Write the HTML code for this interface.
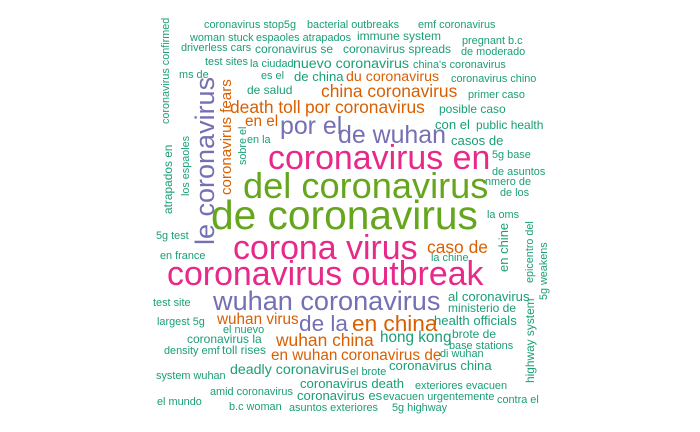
<!DOCTYPE html>
<html><head><meta charset="utf-8"><style>
html,body{margin:0;padding:0;background:#fff;width:700px;height:432px;overflow:hidden}
svg text{font-family:"Liberation Sans",sans-serif}
</style></head><body>
<svg id="cloud" width="700" height="432" xmlns="http://www.w3.org/2000/svg"></svg>
<script>
const T="#1b9e77",O="#d95f02",P="#7570b3",K="#e7298a",G="#66a61e";
// [word, size, color, x, y, rotated]
const words=[
["coronavirus stop5g",10,T,204,28,0],["bacterial outbreaks",10,T,307,28,0],["emf coronavirus",10,T,418,28,0],
["woman stuck",10,T,190,41,0],["espaoles atrapados",10,T,256,41,0],["immune system",11,T,357,40,0],["pregnant b.c",10,T,462,44,0],
["driverless cars",10,T,181,51,0],["coronavirus se",11,T,255,53,0],["coronavirus spreads",11,T,343,53,0],["de moderado",10,T,461,55,0],
["test sites",10,T,205,65,0],["la ciudad",10,T,250,67,0],["nuevo coronavirus",13,T,293,68,0],["china's coronavirus",10,T,413,68,0],
["ms de",10,T,179,78,0],["es el",10,T,261,79,0],["de china",12,T,294,81,0],["du coronavirus",13,O,346,81,0],["coronavirus chino",10,T,451,82,0],
["de salud",11,T,247,94,0],["china coronavirus",16,O,321,97,0],["primer caso",10,T,468,98,0],
["death toll",16,O,230,113,0],["por coronavirus",16,O,305,113,0],["posible caso",11,T,439,113,0],
["en el",14,O,245,126,0],["por el",22,P,280,134,0],["de wuhan",22,P,338,143,0],["con el",12,T,435,129,0],["public health",11,T,476,129,0],
["en la",10,T,247,143,0],["casos de",12,T,451,145,0],["5g base",10,T,492,158,0],["de asuntos",10,T,492,175,0],["nmero de",10,T,485,185,0],["de los",10,T,500,196,0],
["coronavirus en",30,K,268,169,0],["del coronavirus",32,G,243,198,0],["de coronavirus",36,G,211,229,0],
["corona virus",30,K,233,259,0],["caso de",16,O,427,253,0],["la oms",10,T,487,218,0],["coronavirus outbreak",30,K,167,285,0],
["wuhan coronavirus",24,P,213,310,0],["de la",20,P,299,331,0],["en china",20,O,352,331,0],["wuhan virus",14,O,217,324,0],
["wuhan china",16,O,276,346,0],["hong kong",14,T,380,342,0],["en wuhan",14,O,271,360,0],["coronavirus de",14,O,341,360,0],
["al coronavirus",12,T,448,301,0],["ministerio de",11,T,448,312,0],["health officials",12,T,434,325,0],["brote de",11,T,452,338,0],
["base stations",10,T,449,349,0],["di wuhan",10,T,440,357,0],["coronavirus china",12,T,389,370,0],["deadly coronavirus",13,T,230,374,0],
["el brote",10,T,350,375,0],["coronavirus death",12,T,300,388,0],["exteriores evacuen",10,T,415,389,0],["coronavirus es",12,T,297,400,0],
["evacuen urgentemente",10,T,383,400,0],["contra el",10,T,497,403,0],["asuntos exteriores",10,T,289,411,0],["5g highway",10,T,392,411,0],
["b.c woman",10,T,229,410,0],["amid coronavirus",10,T,210,395,0],["el mundo",10,T,157,405,0],["system wuhan",10,T,156,379,0],
["density emf",10,T,164,354,0],["toll rises",11,T,222,354,0],["coronavirus la",11,T,187,343,0],["el nuevo",10,T,223,333,0],
["largest 5g",10,T,157,325,0],["test site",10,T,153,306,0],["en france",10,T,160,259,0],["5g test",10,T,156,239,0],["la chine",10,T,431,261,0],
["coronavirus confirmed",10,T,169,124,1],["atrapados en",11,T,172,214,1],["los espaoles",10,T,189,196,1],["le coronavirus",25,P,214,245,1],
["coronavirus fears",14,O,231,195,1],["sobre el",10,T,246,165,1],["en chine",12,T,508,272,1],["epicentro del",10,T,533,283,1],
["5g weakens",10,T,547,300,1],["highway system",11,T,534,383,1]
];
const svg=document.getElementById('cloud');
words.forEach(w=>{
  const t=document.createElementNS("http://www.w3.org/2000/svg","text");
  
  
  const s=w[5]?w[1]*1.08:(w[1]>=20?w[1]*1.13:w[1]*1.09);
  t.setAttribute('font-size',s.toFixed(1));
  t.setAttribute('fill',w[2]);
  if(w[5]){t.setAttribute('transform','translate('+w[3]+','+w[4]+') rotate(-90)');}
  else{t.setAttribute('x',w[3]);t.setAttribute('y',w[4]);}
  t.textContent=w[0];
  svg.appendChild(t);
});
</script>
</body></html>
